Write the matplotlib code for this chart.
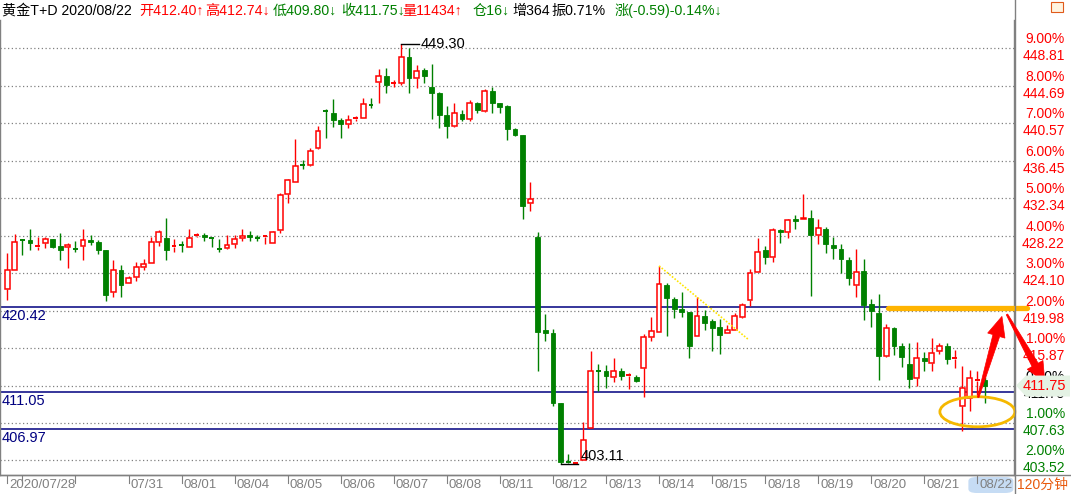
import numpy as np
import matplotlib.pyplot as plt
from matplotlib.patches import Rectangle, Ellipse, Polygon, FancyBboxPatch
from matplotlib.lines import Line2D

plt.rcParams['font.family'] = ['Liberation Sans', 'Noto Sans CJK SC', 'DejaVu Sans']

# 120分钟K线 (黄金T+D)
opens = [422.4, 424.5, 427.7, 427.7, 427.0, 427.4, 427.85, 427.1, 427.0, 426.75,
         427.1, 427.75, 427.5, 426.65, 422.06, 424.45, 423.05, 423.65, 424.8, 425.2,
         427.55, 428.0, 427.0, 427.2, 427.0, 428.2, 428.3, 427.95, 426.75, 426.85,
         427.25, 427.95, 428.3, 427.95, 428.05, 427.4, 428.8, 432.8, 434.15, 436.0,
         436.0, 437.8, 441.95, 441.65, 440.9, 440.45, 441.05, 441.2, 442.55, 445.1,
         445.75, 444.95, 445.0, 447.8, 445.6, 446.4, 444.6, 443.9, 441.5, 440.3,
         441.6, 441.05, 442.75, 441.95, 444.1, 442.8, 442.5, 439.95, 439.3, 431.85,
         428.1, 417.8, 417.5, 409.8, 403.4, 403.11, 403.6, 407.1, 413.35, 413.35,
         412.65, 413.35, 412.85, 412.7, 413.65, 417.1, 417.65, 422.8, 421.3, 420.15,
         419.85, 417.2, 419.4, 418.85, 418.2, 417.5, 417.9, 419.3, 421.1, 424.2,
         426.65, 425.9, 428.85, 428.6, 430.05, 430.0, 430.2, 428.3, 428.95, 427.2,
         426.75, 425.55, 422.75, 424.35, 420.7, 419.7, 415.0, 418.05, 416.1, 414.1,
         412.55, 414.75, 414.25, 415.6, 416.1, 414.65, 409.5, 410.35, 412.3, 412.40]
highs = [426.3, 428.4, 427.85, 428.95, 428.1, 428.1, 427.9, 428.5, 427.4, 427.6,
         428.95, 428.3, 427.75, 426.65, 425.55, 425.0, 423.8, 425.3, 425.7, 428.1,
         428.8, 430.2, 427.9, 427.6, 428.95, 428.5, 428.5, 427.95, 427.85, 428.3,
         428.3, 428.95, 428.7, 428.3, 428.3, 428.7, 432.9, 434.5, 438.8, 436.5,
         437.9, 440.25, 442.1, 443.2, 441.1, 441.5, 441.4, 443.3, 443.3, 446.5,
         446.6, 445.3, 449.3, 448.8, 446.95, 446.7, 447.1, 444.05, 442.5, 442.75,
         442.0, 443.1, 442.95, 444.35, 444.6, 442.8, 442.6, 440.0, 439.3, 434.1,
         428.6, 419.6, 418.0, 409.8, 404.2, 403.25, 407.75, 415.5, 414.1, 414.05,
         414.75, 413.65, 413.1, 412.95, 417.4, 419.25, 424.9, 423.05, 421.45, 422.0,
         419.85, 421.5, 420.05, 419.05, 419.05, 418.4, 419.7, 420.8, 424.55, 428.0,
         427.1, 429.1, 428.95, 430.1, 430.5, 432.8, 431.0, 430.05, 429.15, 428.05,
         427.3, 425.9, 426.75, 425.7, 421.25, 421.8, 418.5, 418.2, 416.4, 416.4,
         416.5, 415.4, 416.95, 416.4, 416.4, 415.7, 413.9, 413.45, 413.3, 412.74]
lows = [421.1, 424.4, 426.1, 426.6, 426.7, 426.9, 426.9, 425.55, 424.7, 426.45,
        425.55, 427.2, 426.2, 421.0, 421.45, 421.5, 422.98, 423.2, 424.45, 425.2,
        427.1, 425.55, 426.45, 426.45, 427.0, 428.1, 427.65, 427.0, 426.4, 426.8,
        426.9, 427.65, 427.65, 427.65, 427.3, 427.4, 428.5, 431.85, 434.15, 435.6,
        435.85, 437.7, 438.95, 440.2, 438.9, 440.0, 440.8, 441.2, 442.3, 442.75,
        443.9, 444.6, 444.8, 443.9, 444.5, 444.95, 441.0, 440.1, 438.95, 440.2,
        440.85, 440.85, 441.7, 441.85, 441.7, 441.7, 438.7, 439.2, 430.05, 430.9,
        413.3, 416.7, 409.5, 403.11, 403.2, 403.15, 403.6, 407.1, 411.15, 411.5,
        412.1, 412.35, 411.35, 412.1, 410.5, 416.7, 417.65, 417.2, 419.2, 419.3,
        414.75, 417.2, 417.85, 415.5, 415.2, 417.5, 417.9, 419.15, 420.5, 424.2,
        425.1, 425.3, 427.4, 427.95, 429.0, 430.0, 421.6, 427.3, 426.35, 425.7,
        424.1, 422.8, 421.5, 419.0, 418.2, 412.4, 414.9, 415.1, 413.8, 411.45,
        411.7, 413.3, 413.3, 415.2, 414.1, 413.65, 406.8, 408.9, 410.7, 409.80]
closes = [424.5, 427.5, 427.6, 427.4, 427.1, 427.8, 427.0, 426.65, 427.2, 426.7,
          427.75, 427.55, 426.65, 421.7, 424.5, 422.8, 423.55, 424.75, 425.1, 427.5,
          428.6, 426.7, 427.1, 427.15, 428.0, 428.3, 428.05, 427.9, 426.7, 427.2,
          427.8, 428.2, 428.05, 427.9, 428.2, 428.6, 432.7, 434.3, 435.9, 435.95,
          437.55, 439.7, 441.85, 440.9, 440.45, 440.9, 441.15, 442.7, 442.5, 445.75,
          444.8, 445.0, 447.8, 445.6, 446.35, 445.8, 443.95, 441.5, 440.3, 441.7,
          441.05, 442.75, 442.0, 444.1, 442.8, 442.4, 439.95, 439.3, 431.5, 432.2,
          417.65, 417.5, 409.8, 403.3, 403.25, 403.2, 405.75, 413.3, 413.3, 412.85,
          413.35, 412.8, 412.95, 412.25, 417.05, 417.7, 422.9, 421.4, 420.15, 419.8,
          416.1, 419.4, 418.65, 418.1, 417.3, 417.85, 419.4, 420.6, 424.1, 426.4,
          425.85, 428.85, 428.6, 429.95, 429.8, 430.2, 428.3, 429.05, 427.3, 426.9,
          425.7, 423.6, 424.2, 420.6, 419.95, 415.0, 418.05, 416.1, 414.85, 412.45,
          414.75, 414.5, 415.3, 416.1, 414.7, 414.75, 411.45, 412.55, 412.4, 411.75]

date_ticks = [0, 2, 9, 16, 23, 30, 37, 44, 51, 58, 65, 72, 79, 86, 93, 100, 107, 114, 121, 128]
date_labels = ['2020/07/28', '', '', '07/31', '08/01', '08/04', '08/05', '08/06', '08/07', '08/08',
               '08/11', '08/12', '08/13', '08/14', '08/15', '08/18', '08/19', '08/20', '08/21', '08/22']

grid_prices = [448.81, 444.69, 440.57, 436.45, 432.34, 428.22, 424.10, 419.98, 415.87,
               411.75, 407.63, 403.52]
grid_pcts = ['9.00%', '8.00%', '7.00%', '6.00%', '5.00%', '4.00%', '3.00%', '2.00%', '1.00%',
             '0.00%', '1.00%', '2.00%']
last_price = 411.75

level_prices = [420.42, 411.05, 406.97]

trend_x = [86, 97.8]
trend_y = [424.9, 416.8]

hi_idx, hi_val = 52, 449.30
lo_idx, lo_val = 73, 403.11

title_parts = [
    (2, '黄金T+D 2020/08/22', 'black'),
    (139, '开412.40↑', '#FF0000'),
    (205, '高412.74↓', '#FF0000'),
    (273, '低409.80↓', '#008000'),
    (341, '收411.75↓', '#008000'),
    (402, '量11434↑', '#FF0000'),
    (473, '仓16↓', '#008000'),
    (512, '增364', 'black'),
    (551, '振0.71%', 'black'),
    (615, '涨(-0.59)-0.14%↓', '#008000'),
]

RED = '#FF0000'
GREEN = '#008000'
NAVY = '#000080'
GRAY = '#808080'

W, H = 1071, 494
fig = plt.figure(figsize=(W / 100, H / 100), dpi=100)
ax = fig.add_axes([0, 1 - 475 / H, 1014 / W, (475 - 20) / H])
ax.set_xlim(-0.96, 132.83)
ax.set_ylim(401.92, 451.92)
ax.set_xticks([])
ax.set_yticks([])
ax.spines['top'].set_visible(False)
for s in ['left', 'right', 'bottom']:
    ax.spines[s].set_color(GRAY)
    ax.spines[s].set_linewidth(1)

# 网格
for p in grid_prices:
    ax.axhline(p, color=GRAY, lw=0.9, ls=(0, (1, 2)), zorder=1)

# 水平价位线
for p in level_prices:
    ax.axhline(p, color=NAVY, lw=1.1, zorder=2)
    ax.annotate(f'{p:.2f}', xy=(0, p), xycoords=('axes fraction', 'data'),
                xytext=(2, -2), textcoords='offset pixels', ha='left', va='top',
                color=NAVY, fontsize=10.5)

# K线
w = 0.64
for i, (o, h, l, c) in enumerate(zip(opens, highs, lows, closes)):
    up = c > o
    col = RED if up else GREEN
    top, bot = max(o, c), min(o, c)
    if up:
        ax.vlines(i, top, h, color=col, lw=1, zorder=3)
        ax.vlines(i, l, bot, color=col, lw=1, zorder=3)
        if top - bot < 0.15:
            ax.hlines(top, i - w / 2, i + w / 2, color=col, lw=1.4, zorder=4)
        else:
            ax.add_patch(Rectangle((i - w / 2, bot), w, top - bot, facecolor='white',
                                   edgecolor=col, lw=1.1, zorder=4))
    else:
        ax.vlines(i, l, h, color=col, lw=1, zorder=3)
        if top - bot < 0.15:
            ax.hlines(top, i - w / 2, i + w / 2, color=col, lw=1.4, zorder=4)
        else:
            ax.add_patch(Rectangle((i - w / 2, bot), w, top - bot, facecolor=col,
                                   edgecolor=col, lw=0.6, zorder=4))

# 最高 / 最低 标注
ax.plot([hi_idx, hi_idx + 2.3], [hi_val, hi_val], color='black', lw=1, zorder=5)
ax.text(hi_idx + 2.5, hi_val, f'{hi_val:.2f}', va='center', ha='left', fontsize=10.5, zorder=5)
ax.plot([lo_idx, lo_idx + 2.3], [lo_val, lo_val], color='black', lw=1, zorder=5)
ax.text(lo_idx + 2.6, lo_val + 0.15, f'{lo_val:.2f}', va='bottom', ha='left', fontsize=10.5, zorder=5)

# 趋势线
ax.plot(trend_x, trend_y, color='#FFE600', lw=1.2, ls=(0, (1, 1)), zorder=5)

# 手绘标记
ax.plot([116.2, 134.6], [420.3, 420.3], color='#FFB400', lw=3.8, solid_capstyle='round',
        zorder=6, clip_on=False)
ax.add_patch(Ellipse((128.0, 408.87), 9.9, 3.3, fill=False, edgecolor='#F5B800', lw=2.0,
                     zorder=6, clip_on=False))


def red_arrow(tail, tip, head_len=20, head_half=9, tail_half=0.8, neck_half=3.5):
    # 手绘风格的红色箭头 (像素坐标构造)
    t = ax.transData.transform(tail)
    p = ax.transData.transform(tip)
    d = (p - t) / np.hypot(*(p - t))
    n = np.array([-d[1], d[0]])
    b = p - d * head_len
    pts = [t + n * tail_half, b + n * neck_half, b + n * head_half, p,
           b - n * head_half, b - n * neck_half, t - n * tail_half]
    fig.patches.append(Polygon(pts, closed=True, transform=None, facecolor=RED,
                               edgecolor=RED, lw=0.5, zorder=7))


red_arrow((128.1, 410.45), (131.24, 419.35))
red_arrow((131.9, 419.57), (136.9, 412.1))

# 右侧刻度
for p, pct in zip(grid_prices, grid_pcts):
    if abs(p - last_price) < 0.01:
        col = 'black'
    elif p > last_price:
        col = RED
    else:
        col = GREEN
    ax.annotate(pct, xy=(1, p), xycoords=('axes fraction', 'data'), xytext=(51, 2),
                textcoords='offset pixels', ha='right', va='bottom', color=col,
                fontsize=10, annotation_clip=False)
    ax.annotate(f'{p:.2f}', xy=(1, p), xycoords=('axes fraction', 'data'), xytext=(51, -1),
                textcoords='offset pixels', ha='right', va='top', color=col,
                fontsize=10, annotation_clip=False)

# 现价标记
yp = ax.transData.transform((0, last_price))[1] / (fig.dpi * fig.get_figheight())
fig.patches.append(Polygon([(1016 / W, yp), (1026 / W, yp + 10 / H), (1070 / W, yp + 10 / H),
                            (1070 / W, yp - 11 / H), (1026 / W, yp - 11 / H)],
                           closed=True, transform=fig.transFigure, facecolor='#E4F2E4',
                           edgecolor='none', zorder=10))
fig.text(1066 / W, yp, f'{last_price:.2f}', ha='right', va='center', color=RED,
         fontsize=10.5, zorder=11)

# 右上角小图标
fig.patches.append(Rectangle((1051 / W, 1 - 12 / H), 12 / W, 10 / H, transform=fig.transFigure,
                             facecolor='#FFF4E0', edgecolor='#E05A1A', lw=0.8))

# 底部日期栏
fig.add_artist(Line2D([0, 1], [1 - 475 / H, 1 - 475 / H], color=GRAY, lw=1,
                      transform=fig.transFigure))
fig.add_artist(Line2D([1014.5 / W, 1014.5 / W], [0, 1], color=GRAY, lw=1,
                      transform=fig.transFigure))
for t, lab in zip(date_ticks, date_labels):
    xf = ax.transData.transform((t, 0))[0] / fig.dpi / fig.get_figwidth()
    fig.add_artist(Line2D([xf, xf], [1 - 476 / H, 1 - 483 / H], color=GRAY, lw=0.8,
                          transform=fig.transFigure))
    if lab:
        if lab == date_labels[-1]:
            fig.patches.append(FancyBboxPatch((xf - 9 / W, 1 - 493 / H), 45 / W, 16 / H,
                                              boxstyle='round,pad=0,rounding_size=0.008',
                                              transform=fig.transFigure, facecolor='#C6DCF4',
                                              edgecolor='none', zorder=0))
        fig.text(xf + 2 / W, 1 - 485 / H, lab, ha='left', va='center', color=GRAY, fontsize=9.5)
fig.text(1068 / W, 1 - 485 / H, '120分钟', ha='right', va='center', color='#E8590C', fontsize=10)

# 标题栏
for x, s, col in title_parts:
    fig.text(x / W, 1 - 11 / H, s, ha='left', va='center', color=col, fontsize=10.2)

fig.savefig('out.png', dpi=100, facecolor='white')
